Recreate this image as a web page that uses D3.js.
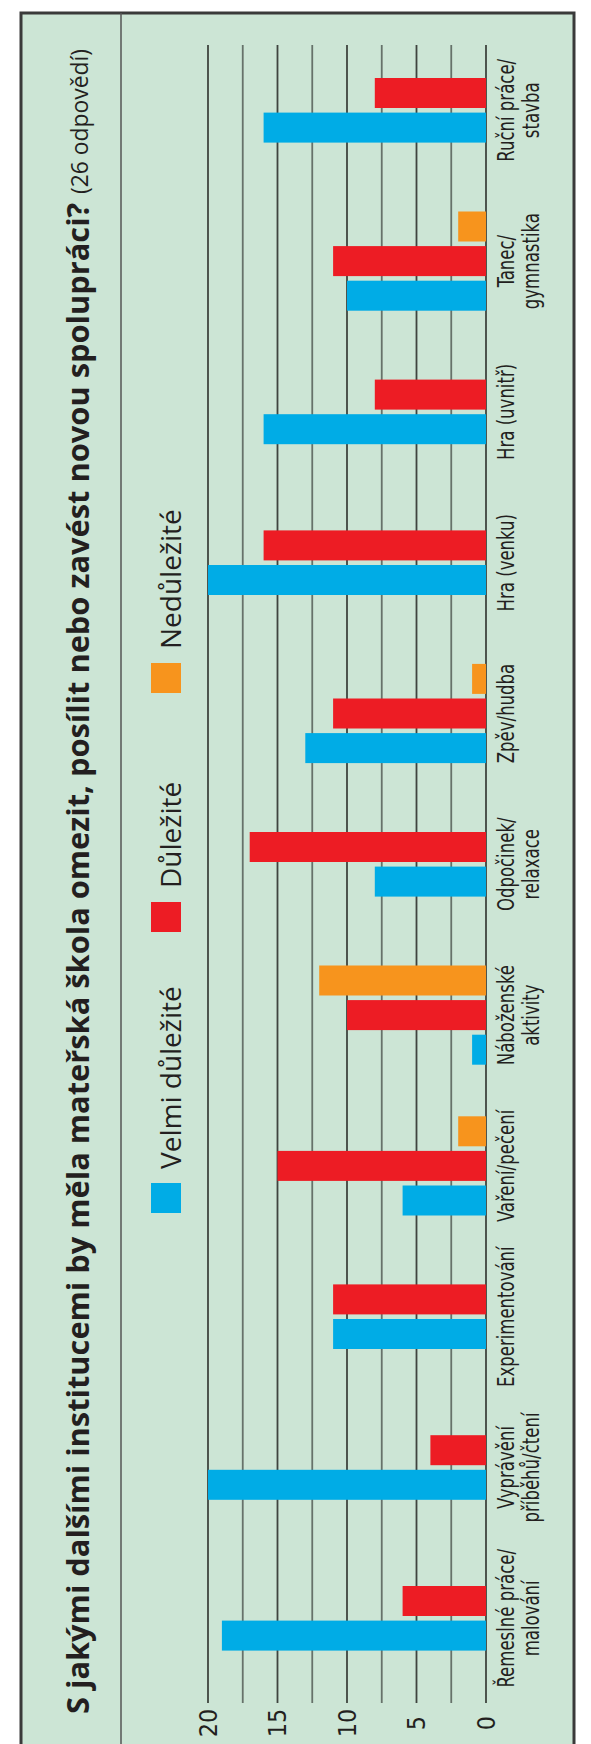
<!DOCTYPE html>
<html><head><meta charset="utf-8">
<script src="https://cdn.jsdelivr.net/npm/d3@7"></script>
<style>body{margin:0;background:#fff}svg{display:block}</style>
</head><body>
<script>
// ---- data ----
const categories = ["Řemeslné práce/|malování","Vyprávění|příběhů/čtení","Experimentování","Vaření/pečení","Náboženské|aktivity","Odpočinek/|relaxace","Zpěv/hudba","Hra (venku)","Hra (uvnitř)","Tanec/|gymnastika","Ruční práce/|stavba"];
const seriesNames = ["Velmi důležité","Důležité","Nedůležité"];
const velmiDulezite = [19,20,11,6,1,8,13,20,16,10,16];
const dulezite      = [6,4,11,15,10,17,11,16,8,11,8];
const nedulezite    = [0,0,0,2,12,0,1,0,0,2,0];
const tickLabels = [0,5,10,15,20];
const gridTicks = [0,2.5,5,7.5,10,12.5,15,17.5,20];
const titleBold = "S jakými dalšími institucemi by měla mateřská škola omezit, posílit nebo zavést novou spolupráci?";
const titleNote = "(26 odpovědí)";

const colors = ["#00ace6","#ed1c24","#f7941d"];
const W=591,H=1744;
const svg=d3.select("body").append("svg").attr("width",W).attr("height",H);
svg.append("rect").attr("width",W).attr("height",H).attr("fill","#fff");
// rotated frame: u = H - screenY, v = screenX
const g=svg.append("g").attr("transform",`translate(0,${H}) rotate(-90)`);

g.append("rect").attr("x",-10).attr("y",21).attr("width",1741).attr("height",553)
 .attr("fill","#cce5d5").attr("stroke","#3a3a3a").attr("stroke-width",3);
g.append("line").attr("x1",-10).attr("x2",1731).attr("y1",121).attr("y2",121)
 .attr("stroke","#555").attr("stroke-width",1.5);

const x=d3.scaleBand().domain(categories).range([50.3,1709.1]);
const y=d3.scaleLinear().domain([0,20]).range([486,208]);

// grid
g.append("g").selectAll("line").data(gridTicks).join("line")
 .attr("x1",41).attr("x2",1699).attr("y1",d=>y(d)).attr("y2",d=>y(d))
 .attr("stroke",d=>d%5===0?"#3f443f":"#66726a").attr("stroke-width",1.8);

const condensed="'Liberation Sans Narrow','DejaVu Sans Condensed',sans-serif";
// y axis labels
const ax=g.append("g").attr("transform","translate(33,0)")
 .call(d3.axisLeft(y).tickValues(tickLabels).tickSize(0).tickPadding(0));
ax.select(".domain").remove();
ax.selectAll("text").attr("font-family",condensed)
 .attr("font-size",25).attr("fill","#231f20").attr("text-anchor","middle").attr("x",-12);

// bars
const barW=30, gap=4.6;
const data=categories.map((c,i)=>({c,vals:[velmiDulezite[i],dulezite[i],nedulezite[i]]}));
const grp=g.append("g");
data.forEach(d=>{
  const present=[0,1,2].filter(k=>d.vals[k]>0);
  const n=present.length, total=n*barW+(n-1)*gap;
  const cx=x(d.c)+x.bandwidth()/2;
  const sub=d3.scaleBand().domain(present).range([cx-total/2,cx+total/2]).paddingInner(gap/(barW+gap));
  grp.selectAll(null).data(present).join("rect")
   .attr("x",k=>sub(k)).attr("width",sub.bandwidth())
   .attr("y",k=>y(d.vals[k])).attr("height",k=>y(0)-y(d.vals[k]))
   .attr("fill",k=>colors[k]);
});

// category labels (condensed look)
const lab=g.append("g").attr("font-family",condensed)
 .attr("font-size",23).attr("fill","#231f20").attr("text-anchor","middle");
categories.forEach(c=>{
  const lines=c.split("|");
  const cx=x(c)+x.bandwidth()/2;
  const t=lab.append("text").attr("transform",`translate(${cx},0) scale(0.8,1)`);
  lines.forEach((l,i)=>t.append("tspan").attr("x",0).attr("y",514+i*25).text(l));
});

// legend
const legU=[531,812,1051];
const leg=g.append("g");
seriesNames.forEach((s,i)=>{
  leg.append("rect").attr("x",legU[i]).attr("y",151).attr("width",30).attr("height",30).attr("fill",colors[i]);
  leg.append("text").attr("x",legU[i]+44).attr("y",181).text(s)
   .attr("font-family","'Open Sans',sans-serif").attr("font-size",28).attr("fill","#231f20");
});

// title
const tb=g.append("text").attr("x",30).attr("y",89).text(titleBold)
 .attr("font-family","'Open Sans',sans-serif").attr("font-weight","bold").attr("font-size",30).attr("fill","#231f20");
let L=tb.node().getComputedTextLength();
tb.attr("font-size",30*1512/L);
const tn=g.append("text").attr("x",1550).attr("y",88).text(titleNote)
 .attr("font-family","'Open Sans',sans-serif").attr("font-size",24).attr("fill","#231f20");
L=tn.node().getComputedTextLength();
tn.attr("font-size",Math.min(26,24*145/L));
</script>
</body></html>
